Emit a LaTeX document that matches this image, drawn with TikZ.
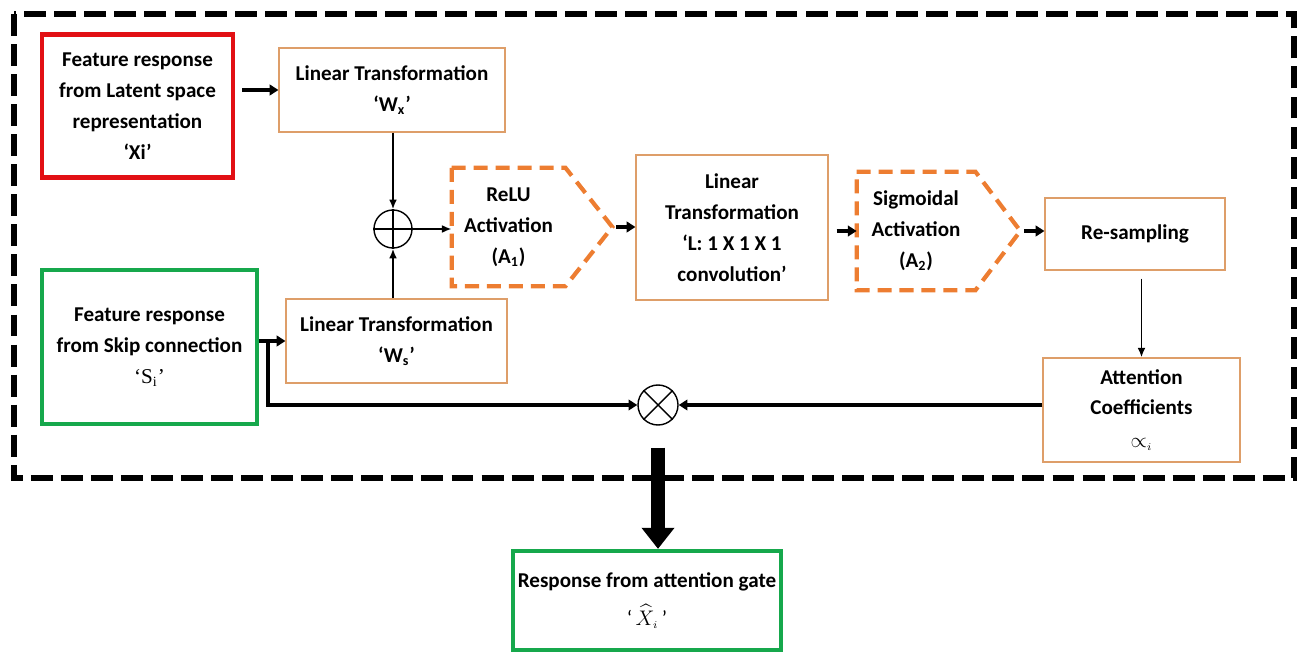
\documentclass[tikz,border=0pt]{standalone}
\usepackage{fontspec}
\setmainfont{Carlito}
\newfontfamily\serifquote{Liberation Serif}
\usepackage{amsmath}
\usetikzlibrary{arrows.meta}
\usetikzlibrary{calc}
\definecolor{gateorange}{RGB}{237,125,49}
\definecolor{blockline}{RGB}{222,158,105}
\definecolor{gatered}{RGB}{226,16,20}
\definecolor{gategreen}{RGB}{22,168,76}
\tikzset{
    every node/.style={font=\bfseries\fontsize{12}{17.6}\selectfont, align=center, inner sep=0pt},
    boxsize/.style 2 args={minimum width=#1*0.2mm, minimum height=#2*0.2mm},
    block/.style={draw=blockline, line width=0.6pt},
    source/.style={line width=2.4pt},
    actshape/.style={draw=gateorange, line width=2.4pt, dash pattern=on 8pt off 4.5pt, line join=miter},
    gateframe/.style={line width=3.4pt, dash pattern=on 12.5pt off 4.6pt},
    opsym/.style={draw, circle, line width=0.8pt, minimum size=38*0.2mm},
    thinarrow/.style={-{Latex[length=5.5pt,width=4.5pt]}, line width=1.1pt},
    thickarrow/.style={-{Triangle[length=5pt,width=6pt]}, line width=2.3pt},
    bigarrow/.style={-{Triangle[length=12pt,width=18pt]}, line width=8.5pt}}

\begin{document}
\begin{tikzpicture}[x=0.2mm, y=-0.2mm]
\useasboundingbox (0,0) rectangle (1299,652);

% dashed frame round the gate
\draw[gateframe] (14,14) rectangle (1294,478);

% inputs
\node[source, draw=gatered, boxsize={191}{143}] (latent) at (137.5,106) {Feature response\\from Latent space\\representation\\‘Xi’};
\node[source, draw=gategreen, boxsize={215}{154}] (skip) at (149.5,347) {Feature response\\from Skip connection\\{\serifquote\mdseries ‘S\textsubscript{i}’}};

% linear transformations of both inputs
\node[block, boxsize={226}{84}] (wx) at (392,90) {Linear Transformation\\‘W\textsubscript{x}’};
\node[block, boxsize={221}{84}] (ws) at (396.5,341) {Linear Transformation\\‘W\textsubscript{s}’};
\node[opsym] (plus) at (393,229) {};
\draw[line width=0.8pt] (plus.north) -- (plus.south);
\draw[line width=0.8pt] (plus.west) -- (plus.east);

% activations, drawn as dashed arrow shapes
\node[boxsize={113}{118}] (relu) at (508.5,227) {ReLU\\Activation\\(A\textsubscript{1})};
\coordinate (relutip) at ($(relu.east)+(47,0)$);
\draw[actshape] (relu.north west) -- (relu.north east) -- (relutip) -- (relu.south east) -- (relu.south west) -- cycle;

\node[block, boxsize={192}{145}] (conv) at (732,227.5) {Linear\\Transformation\\‘L: 1 X 1 X 1\\convolution’};

\node[boxsize={118}{118}] (sig) at (916,231) {Sigmoidal\\Activation\\(A\textsubscript{2})};
\coordinate (sigtip) at ($(sig.east)+(45,0)$);
\draw[actshape] (sig.north west) -- (sig.north east) -- (sigtip) -- (sig.south east) -- (sig.south west) -- cycle;

\node[block, boxsize={180}{72}] (resamp) at (1135,234) {Re-sampling};
\node[block, boxsize={197}{104}] (att) at (1141.5,410) {Attention\\Coefficients\\[1pt]{\mdseries$\propto_{\scriptscriptstyle i}$}};

% gating product and output
\node[opsym, minimum size=40*0.2mm] (times) at (658,405) {};
\draw[line width=0.8pt] (times.north west) -- (times.south east);
\draw[line width=0.8pt] (times.north east) -- (times.south west);
\node[source, draw=gategreen, boxsize={268}{99}] (out) at (647,600.5) {Response from attention gate\\[4pt]{\mdseries‘\,$\widehat{X}_{\scriptscriptstyle i}$\,’}};

% connections
\draw[thickarrow, shorten <=7*0.2mm] (wx.west -| latent.east) -- (wx.west);
\draw[thinarrow] (wx.south -| plus) -- (plus.north);
\draw[thinarrow] (ws.north -| plus) -- (plus.south);
\draw[thinarrow] (plus.east) -- (relu.west |- plus.east);
\draw[thickarrow, shorten <=4*0.2mm] (relutip) -- (conv.west |- relutip);
\draw[thickarrow, shorten <=8*0.2mm] (conv.east |- sig.west) -- (sig.west);
\draw[thickarrow, shorten <=4*0.2mm] (sigtip) -- (resamp.west |- sigtip);
\draw[thinarrow, shorten <=8*0.2mm] (resamp.south -| att.north) -- (att.north);

\coordinate (fork) at (268,341);
\draw[thickarrow] (ws.west -| skip.east) -- (ws.west);
\draw[thickarrow] (fork) |- (times.west);
\draw[thickarrow] (att.west |- times) -- (times.east);
\draw[bigarrow, shorten <=22*0.2mm] (times.south) -- (times.south |- out.north);

\end{tikzpicture}
\end{document}
